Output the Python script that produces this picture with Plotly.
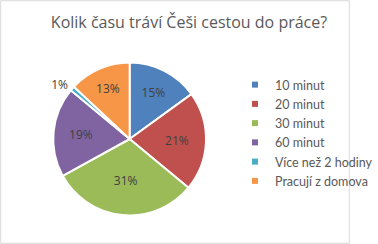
import plotly.graph_objects as go

categories = ["10 minut", "20 minut", "30 minut", "60 minut", "Více než 2 hodiny", "Pracují z domova"]
values = [15, 21, 31, 19, 1, 13]
colors = ["#4F81BD", "#C0504D", "#9BBB59", "#8064A2", "#4BACC6", "#F79646"]
text_pos = ["inside", "inside", "inside", "inside", "outside", "inside"]

W, H = 378, 244
fig = go.Figure(go.Pie(
    labels=categories, values=values, sort=False, direction="clockwise", rotation=0,
    marker=dict(colors=colors, line=dict(color="white", width=2)),
    textinfo="percent", texttemplate="%{percent:.0%}", textposition=text_pos,
    insidetextorientation="horizontal",
    textfont=dict(family="Open Sans", size=12, color="#404040"),
    insidetextfont=dict(family="Open Sans", size=12, color="#404040"),
    outsidetextfont=dict(family="Open Sans", size=12, color="#404040"),
    domain=dict(x=[57.5/W, 222.5/W], y=[1-221.5/H, 1-56.5/H]),
    hoverinfo="skip", showlegend=False,
))
for name, c in zip(categories, colors):
    fig.add_trace(go.Scatter(x=[None], y=[None], mode="markers", name=name,
                             marker=dict(symbol="square", size=6, color=c), hoverinfo="skip"))
fig.update_xaxes(visible=False)
fig.update_yaxes(visible=False)
fig.update_layout(
    width=W, height=H, margin=dict(l=0, r=0, t=0, b=0),
    paper_bgcolor="white", plot_bgcolor="white",
    title=dict(text="Kolik času tráví Češi cestou do práce?", x=0.5, xanchor="center",
               y=1-22/H, yanchor="middle",
               font=dict(family="Open Sans", size=16, color="#595959")),
    legend=dict(x=254/W, y=1-70/H, xanchor="left", yanchor="top",
                font=dict(family="Lato", size=12.5, color="#595959"),
                itemwidth=30, tracegroupgap=0, bgcolor="rgba(0,0,0,0)"),
    shapes=[dict(type="rect", xref="paper", yref="paper", x0=0.002, y0=0.003, x1=0.998, y1=0.997,
                 line=dict(color="#D9D9D9", width=1))],
)
fig.write_html("out.html")
